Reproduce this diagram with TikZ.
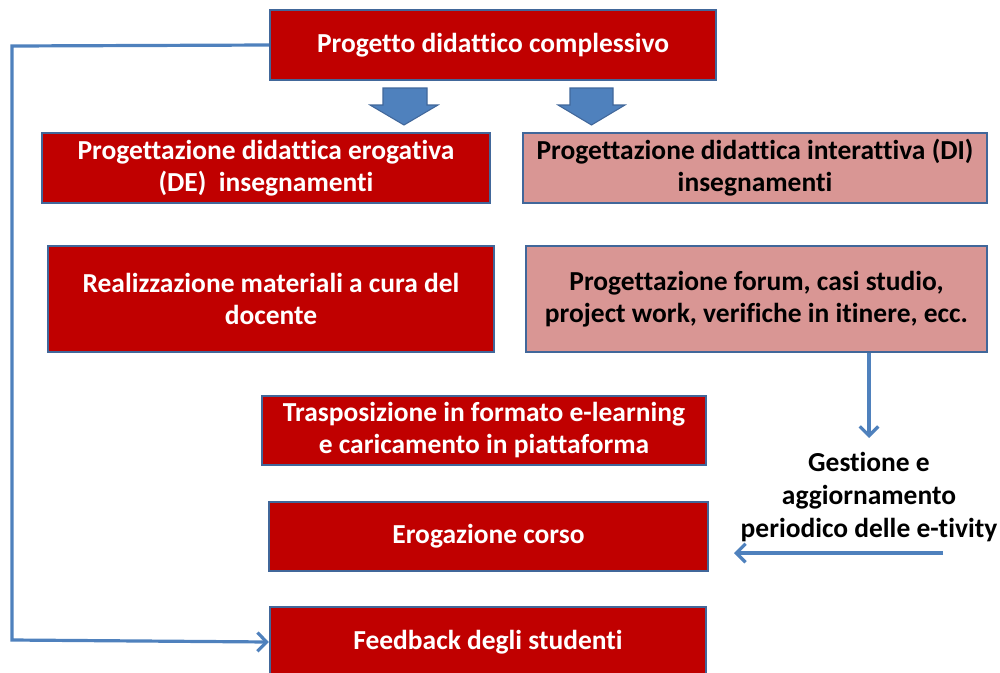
\documentclass[tikz,border=0pt]{standalone}
\usepackage{fontspec}
\setmainfont{Carlito}[Ligatures=NoCommon]
\usetikzlibrary{arrows.meta}
\definecolor{dred}{HTML}{C00000}
\definecolor{pinkf}{HTML}{D99694}
\definecolor{bordc}{HTML}{41679A}
\definecolor{arrc}{HTML}{4F81BD}
\tikzset{
  boxbase/.style={draw=bordc, line width=1.6pt, inner sep=0pt, align=center,
    font=\fontsize{20.6}{24}\selectfont\bfseries},
  redbox/.style={boxbase, fill=dred, text=white},
  pinkbox/.style={boxbase, fill=pinkf, text=black},
  conn/.style={draw=arrc, line width=2.4pt},
  tip/.style={-{Straight Barb[length=7pt,width=14pt,line width=2.4pt]}},
  blockarrow/.style={fill=arrc, draw=bordc, line width=0.8pt, line join=miter},
  lbl/.style={align=center, font=\fontsize{20.6}{25}\selectfont\bfseries}
}
\begin{document}
\begin{tikzpicture}[x=0.75pt,y=-0.75pt]
\useasboundingbox (0,0) rectangle (1000,672);
\node[redbox, minimum width=446*0.75pt, minimum height=70*0.75pt] (top) at (493,45) {Progetto didattico complessivo};
\node[redbox, minimum width=448*0.75pt, minimum height=70*0.75pt] (de) at (266,168) {Progettazione didattica erogativa\\(DE)\ \ insegnamenti};
\node[pinkbox, minimum width=464*0.75pt, minimum height=70*0.75pt] (di) at (755,168) {Progettazione didattica interattiva (DI)\\insegnamenti};
\node[redbox, minimum width=446*0.75pt, minimum height=106*0.75pt] (real) at (271,299) {Realizzazione materiali a cura del\\docente};
\node[pinkbox, minimum width=461*0.75pt, minimum height=106*0.75pt] (forum) at (756.5,299) {Progettazione forum, casi studio,\\project work, verifiche in itinere, ecc.};
\node[redbox, minimum width=444*0.75pt, minimum height=69*0.75pt] (tras) at (484,430.5) {Trasposizione in formato e-learning\\e caricamento in piattaforma};
\node[redbox, minimum width=439*0.75pt, minimum height=69*0.75pt] (erog) at (488.5,536.5) {Erogazione corso};
\node[redbox, minimum width=436*0.75pt, minimum height=70*0.75pt] (feed) at (488,642) {Feedback degli studenti};
\draw[blockarrow] (383,88) -- (427,88) -- (427,105) -- (438,105) -- (404,125) -- (370,105) -- (383,105) -- cycle;
\draw[blockarrow] (570,88) -- (613,88) -- (613,105) -- (625,105) -- (591.5,125) -- (558,105) -- (570,105) -- cycle;
\node[lbl] (gest) at (869,497) {Gestione e\\aggiornamento\\periodico delle e-tivity};
\coordinate (gin) at (869,438);
\coordinate (hstart) at (943,553);
\coordinate (hend) at (734,553);
\coordinate (c1) at (12,46);
\coordinate (c2) at (12,640);
\draw[conn] (top.west) -- (c1) -- (c2) -- (feed.west) [tip];
\draw[conn, tip] (forum.south -| gin) -- (gin);
\draw[conn, tip] (hstart) -- (hend);
\end{tikzpicture}
\end{document}
